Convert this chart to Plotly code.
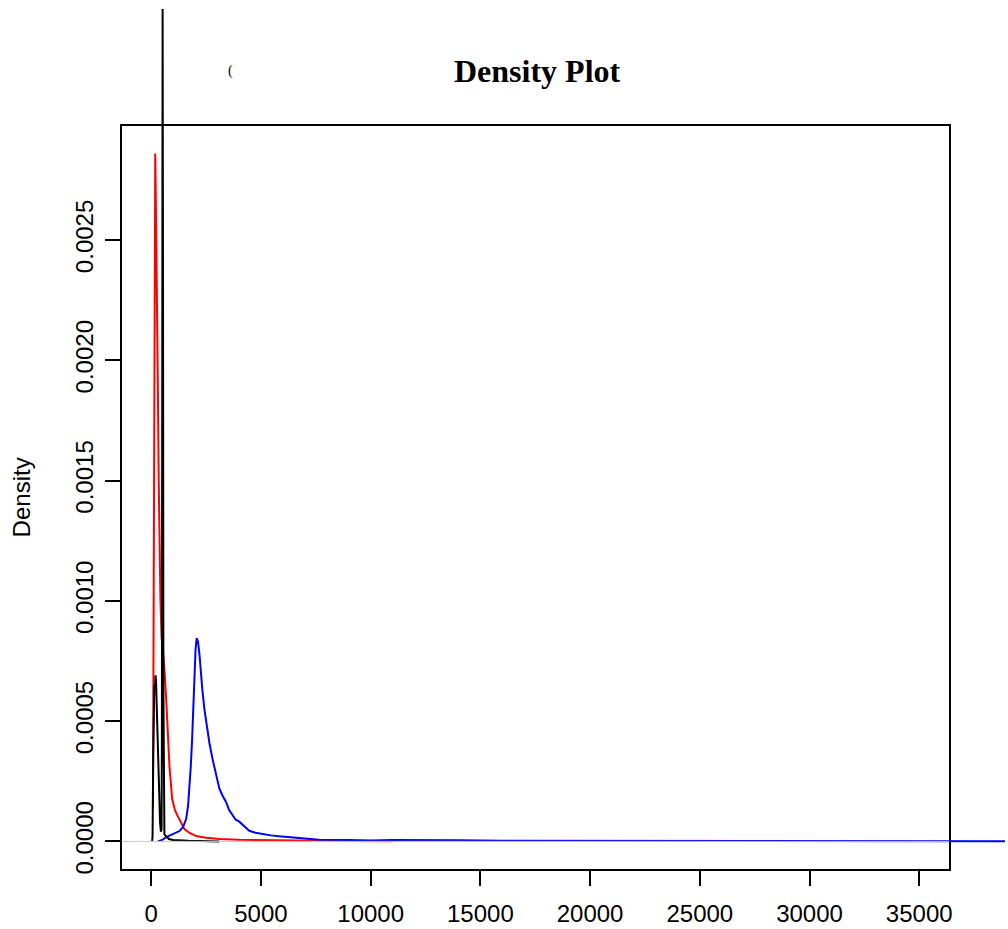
import plotly.graph_objects as go

# ---------------- data ----------------
x_ticks = [0, 5000, 10000, 15000, 20000, 25000, 30000, 35000]
x_tick_labels = ["0", "5000", "10000", "15000", "20000", "25000", "30000", "35000"]
y_ticks = [0.0, 0.0005, 0.0010, 0.0015, 0.0020, 0.0025]
y_tick_labels = ["0.0000", "0.0005", "0.0010", "0.0015", "0.0020", "0.0025"]

red_x = [77, 100, 130, 160, 182, 205, 235, 264, 300, 340, 380, 420, 470, 530, 590,
         682, 760, 832, 954, 1080, 1209, 1350, 1513, 1750, 2045, 2500, 3103, 4000,
         5000, 6500, 7646, 9000, 11000]
red_y = [0.00014, 0.0007, 0.0016, 0.0025, 0.00286, 0.0027, 0.0025, 0.00227, 0.0019,
         0.0015, 0.0012, 0.0010, 0.00085, 0.00079, 0.00073, 0.00059, 0.00045, 0.00031,
         0.000176, 0.00013, 0.000105, 0.00008, 0.000051, 0.000035, 0.000022, 0.000015,
         0.00001, 0.000007, 0.000005, 0.000003, 0.0000025, 0.000002, 0.000001]

blue_x = [300, 500, 682, 1000, 1286, 1450, 1590, 1680, 1740, 1800, 1863, 1920, 1968,
          2020, 2072, 2130, 2195, 2260, 2330, 2422, 2530, 2649, 2799, 2950, 3103, 3250,
          3408, 3550, 3708, 3850, 4012, 4239, 4467, 4750, 5072, 5450, 5830, 6890, 7647,
          9000, 10000, 11000, 12500, 14000, 16000, 19000, 22000, 26000, 30000, 35000,
          40000]
blue_y = [0.0, 0.000006, 0.000018, 0.00003, 0.000043, 0.00006, 0.000093, 0.00015,
          0.000218, 0.00031, 0.000425, 0.00058, 0.000703, 0.0008, 0.000845, 0.00083,
          0.00078, 0.0007, 0.00063, 0.00055, 0.00048, 0.00041, 0.00034, 0.00028,
          0.00022, 0.00019, 0.000164, 0.00013, 0.000106, 0.00009, 0.000082, 0.000065,
          0.000044, 0.000036, 0.00003, 0.000025, 0.000021, 0.000012, 0.0000067,
          0.000006, 0.000004, 0.000006, 0.000004, 0.000005, 0.000003, 0.000003,
          0.000002, 0.0000015, 0.000001, 0.0000008, 0.0000005]

black_x = [40, 60, 90, 120, 140, 170, 195, 220, 260, 300, 350, 400, 440, 470, 485, 500,
           518, 535, 555, 575, 600, 640, 700, 800, 1000, 1300, 1700, 2200, 2700, 3100]
black_y = [0.0, 0.00002, 0.00035, 0.00062, 0.00065, 0.00064, 0.00069, 0.00066, 0.00052,
           0.00036, 0.00020, 0.00008, 0.00004, 0.00005, 0.0004, 0.0020, 0.00346, 0.0024,
           0.0006, 0.00006, 0.00003, 0.000025, 0.00002, 0.00001, 0.000006, 0.000004,
           0.000003, 0.000002, 0.000002, 0.0]

# ---------------- layout geometry ----------------
W, H = 1008, 929
H_EFF = 925  # vertical frame used for placing the plot box
xdom = [122 / W, 952 / W]
ydom = [1 - 870 / H_EFF, 1 - 126 / H_EFF]
xr = [-1349.5, 36364.0]
yr = [-0.000115, 0.0029746]


def extend(r, d):
    span = (r[1] - r[0]) / (d[1] - d[0])
    return [r[0] - d[0] * span, r[1] + (1 - d[1]) * span]


xr2 = extend(xr, xdom)
yr2 = extend(yr, ydom)

LINE_W = 2.0
fig = go.Figure()

# gray zero line, clipped to the plot box
fig.add_shape(type="line", xref="x domain", yref="y", x0=0, x1=1, y0=0, y1=0,
              line=dict(color="#c8c8c8", width=1))

# density curves on an overlay axis pair spanning the whole page (not clipped to box)
fig.add_trace(go.Scatter(x=red_x, y=red_y, mode="lines", xaxis="x2", yaxis="y2",
                         line=dict(color="#ff0000", width=LINE_W), showlegend=False,
                         hoverinfo="skip"))
fig.add_trace(go.Scatter(x=blue_x, y=blue_y, mode="lines", xaxis="x2", yaxis="y2",
                         line=dict(color="#0000ff", width=LINE_W), showlegend=False,
                         hoverinfo="skip"))
fig.add_trace(go.Scatter(x=black_x, y=black_y, mode="lines", xaxis="x2", yaxis="y2",
                         line=dict(color="#000000", width=LINE_W), showlegend=False,
                         hoverinfo="skip"))

tick_font = dict(family="Liberation Sans, Arial, sans-serif", size=24, color="black")

fig.update_layout(
    width=W, height=H,
    margin=dict(l=0, r=0, t=0, b=0),
    paper_bgcolor="white", plot_bgcolor="rgba(0,0,0,0)",
    showlegend=False,
    xaxis=dict(domain=xdom, range=xr, tickmode="array", tickvals=x_ticks,
               ticktext=x_tick_labels, ticks="outside", ticklen=15, tickwidth=1.5,
               tickcolor="black", showline=True, mirror=True, linecolor="black",
               linewidth=1.5, showgrid=False, zeroline=False, tickfont=tick_font,
               ticklabelstandoff=7, anchor="y"),
    yaxis=dict(domain=ydom, range=yr, tickmode="array", tickvals=y_ticks,
               ticktext=y_tick_labels, ticks="outside", ticklen=15, tickwidth=1.5,
               tickcolor="black", showline=True, mirror=True, linecolor="black",
               linewidth=1.5, showgrid=False, zeroline=False, tickfont=tick_font,
               tickangle=-90, ticklabelstandoff=2, anchor="x"),
    xaxis2=dict(domain=[0, 1], range=xr2, visible=False, anchor="y2"),
    yaxis2=dict(domain=[0, 1], range=yr2, visible=False, anchor="x2"),
    annotations=[
        dict(text="<b>Density Plot</b>", xref="paper", yref="paper",
             x=539.5 / W, y=1 - 71 / H_EFF, xanchor="center", yanchor="middle",
             showarrow=False,
             font=dict(family="Liberation Serif, Times New Roman, serif", size=32,
                       color="black")),
        dict(text="(", xref="paper", yref="paper", x=231 / W, y=1 - 71 / H_EFF,
             xanchor="center", yanchor="middle", showarrow=False,
             font=dict(family="Liberation Serif, serif", size=14, color="black")),
        dict(text="Density", xref="paper", yref="paper", x=22 / W, y=1 - 498 / H_EFF,
             xanchor="center", yanchor="middle", textangle=-90, showarrow=False,
             font=tick_font),
    ],
)

fig.write_html("out.html")
